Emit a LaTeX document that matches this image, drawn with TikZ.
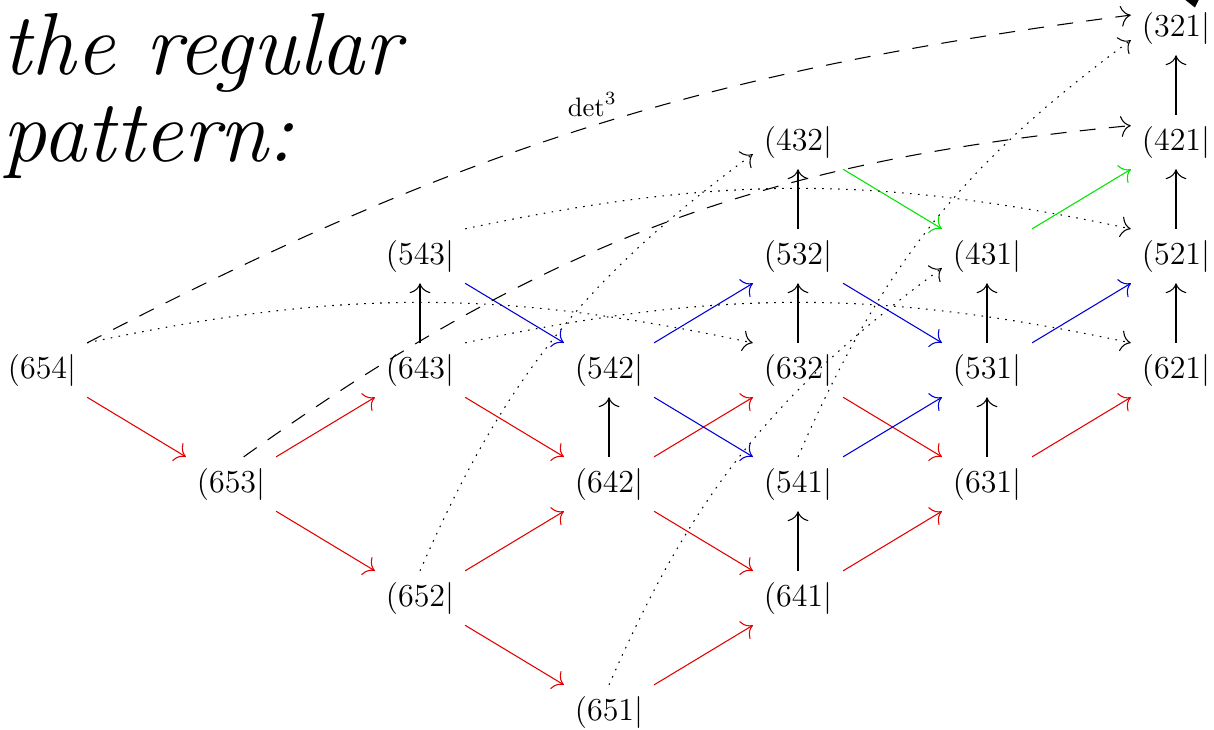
\documentclass[tikz,border=0pt]{standalone}
\usepackage{tikz}
\usetikzlibrary{arrows.meta, positioning}

\begin{document}
\begin{tikzpicture}[
    x=2.491cm, y=1.5025cm,
    cell/.style={font=\fontsize{12.9}{15}\selectfont, inner sep=4pt},
    note/.style={anchor=base west, inner sep=0pt, font=\fontsize{33}{38}\selectfont\itshape},
    lift/.style={-{To[scale=1.5]}, black},
    redarr/.style={-{To[scale=1.5]}, red!90!black},
    bluearr/.style={-{To[scale=1.5]}, blue!85!black},
    greenarr/.style={-{To[scale=1.5]}, green!90!black},
    dasharr/.style={-{To[scale=1.5]}, dash pattern=on 6pt off 5pt},
    dotarr/.style={-{To[scale=1.5]}, dash pattern=on 0.6pt off 2.4pt}
]
\useasboundingbox (-0.2222,-3.149) rectangle (6.201,3.246);

% handwritten note
\node[note] (note1) at (-0.21,2.59) {the regular};
\node[note] (note2) at (-0.21,1.83) {pattern:};
\fill (6.05,3.246) -- (6.12,3.246) -- (6.10,3.18) -- cycle;

% weights
\node[cell] (n654) at (0,0) {$(654|$};
\node[cell] (n653) at (1,-1) {$(653|$};
\node[cell] (n652) at (2,-2) {$(652|$};
\node[cell] (n651) at (3,-3) {$(651|$};
\node[cell] (n643) at (2,0) {$(643|$};
\node[cell] (n642) at (3,-1) {$(642|$};
\node[cell] (n641) at (4,-2) {$(641|$};
\node[cell] (n543) at (2,1) {$(543|$};
\node[cell] (n542) at (3,0) {$(542|$};
\node[cell] (n541) at (4,-1) {$(541|$};
\node[cell] (n632) at (4,0) {$(632|$};
\node[cell] (n631) at (5,-1) {$(631|$};
\node[cell] (n532) at (4,1) {$(532|$};
\node[cell] (n531) at (5,0) {$(531|$};
\node[cell] (n432) at (4,2) {$(432|$};
\node[cell] (n431) at (5,1) {$(431|$};
\node[cell] (n621) at (6,0) {$(621|$};
\node[cell] (n521) at (6,1) {$(521|$};
\node[cell] (n421) at (6,2) {$(421|$};
\node[cell] (n321) at (6,3) {$(321|$};

% red moves
\draw[redarr] (n654) -- (n653);
\draw[redarr] (n653) -- (n643);
\draw[redarr] (n653) -- (n652);
\draw[redarr] (n643) -- (n642);
\draw[redarr] (n652) -- (n642);
\draw[redarr] (n652) -- (n651);
\draw[redarr] (n642) -- (n632);
\draw[redarr] (n642) -- (n641);
\draw[redarr] (n651) -- (n641);
\draw[redarr] (n632) -- (n631);
\draw[redarr] (n641) -- (n631);
\draw[redarr] (n631) -- (n621);

% blue moves
\draw[bluearr] (n543) -- (n542);
\draw[bluearr] (n542) -- (n532);
\draw[bluearr] (n542) -- (n541);
\draw[bluearr] (n532) -- (n531);
\draw[bluearr] (n541) -- (n531);
\draw[bluearr] (n531) -- (n521);

% green moves
\draw[greenarr] (n432) -- (n431);
\draw[greenarr] (n431) -- (n421);

% vertical steps
\draw[lift] (n643) -- (n543);
\draw[lift] (n642) -- (n542);
\draw[lift] (n641) -- (n541);
\draw[lift] (n632) -- (n532);
\draw[lift] (n532) -- (n432);
\draw[lift] (n631) -- (n531);
\draw[lift] (n531) -- (n431);
\draw[lift] (n621) -- (n521);
\draw[lift] (n521) -- (n421);
\draw[lift] (n421) -- (n321);

% long jumps
\draw[dasharr] (n654.north east) to[bend left=10] node[above] {$\det^3$} (n321.164);
\draw[dasharr] (n653.65) to[bend left=15] (n421.160);
\draw[dotarr] (n654.north east) to[bend left=12] (n632.north west);
\draw[dotarr] (n643.north east) to[bend left=12] (n621.north west);
\draw[dotarr] (n543.north east) to[bend left=12] (n521.north west);
\draw[dotarr] (n652.north) to[bend left=15] (n432.195);
\draw[dotarr] (n651.north) to[bend left=15] (n431.195);
\draw[dotarr] (n541.north) to[bend left=15] (n321.195);

\end{tikzpicture}
\end{document}
